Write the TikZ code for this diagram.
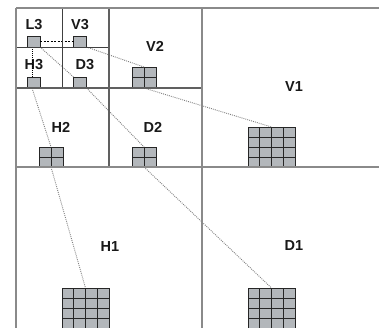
\documentclass[tikz,border=0pt]{standalone}
\usepackage{fontspec}
\setmainfont{Liberation Sans}
\usetikzlibrary{calc}
\definecolor{boxgray}{HTML}{B3B7BB}
\definecolor{frameA}{HTML}{8A8A8A}
\definecolor{frameB}{HTML}{606060}
\definecolor{frameC}{HTML}{404040}
\tikzset{
  lbl/.style={font=\bfseries\fontsize{14.5}{16}\selectfont, text=black!90, inner sep=0pt},
  sq/.style 2 args={draw=black!85, fill=boxgray, line width=0.8pt, inner sep=0pt, outer sep=0pt,
    anchor=north west, minimum width=#1, minimum height=#2},
  gridbox/.style n args={3}{sq={#1}{#2},
    path picture={\foreach \f in {#3}{
      \draw[black!85, line width=0.8pt]
        ($(path picture bounding box.north west)!\f!(path picture bounding box.north east)$) --
        ($(path picture bounding box.south west)!\f!(path picture bounding box.south east)$);
      \draw[black!85, line width=0.8pt]
        ($(path picture bounding box.north west)!\f!(path picture bounding box.south west)$) --
        ($(path picture bounding box.north east)!\f!(path picture bounding box.south east)$);
    }}},
  link/.style={draw=gray, line width=0.9pt, dash pattern=on 0.9pt off 1.1pt},
  blink/.style={draw=black, line width=0.8pt, dash pattern=on 0.9pt off 1.2pt},
  hlink/.style={draw=black, line width=0.8pt, dash pattern=on 2pt off 1.5pt},
  lineA/.style={draw=frameA, line width=1.4pt},
  lineB/.style={draw=frameB, line width=1.1pt},
  lineC/.style={draw=frameC, line width=0.9pt},
}
\begin{document}
\begin{tikzpicture}[x=1pt,y=-1pt]
\useasboundingbox[fill=white] (0,0) rectangle (379,328);
% squares and grids
\node[sq={13pt}{11pt}] (L3) at (27,36) {};
\node[sq={13pt}{11pt}] (V3) at (73.5,36) {};
\node[sq={13pt}{11pt}] (H3) at (27,77) {};
\node[sq={13pt}{11pt}] (D3) at (73.5,77) {};
\node[gridbox={24pt}{21pt}{0.5}] (V2) at (132,67) {};
\node[gridbox={24pt}{20pt}{0.5}] (H2) at (39,147) {};
\node[gridbox={24pt}{20pt}{0.5}] (D2) at (132,147) {};
\node[gridbox={47pt}{40pt}{0.25,0.5,0.75}] (V1) at (248,127) {};
\node[gridbox={47pt}{41pt}{0.25,0.5,0.75}] (H1) at (62,288) {};
\node[gridbox={47pt}{41pt}{0.25,0.5,0.75}] (D1) at (248,288) {};
% labels
\node[lbl] (tL3) at (34,25) {L3};
\node[lbl] (tV3) at (80,25) {V3};
\node[lbl] (tH3) at (34,65) {H3};
\node[lbl] (tD3) at (85,65) {D3};
\node[lbl] (tV2) at (155,46) {V2};
\node[lbl] (tH2) at (61,127) {H2};
\node[lbl] (tD2) at (153,127) {D2};
\node[lbl] (tV1) at (294,87) {V1};
\node[lbl] (tH1) at (110,247) {H1};
\node[lbl] (tD1) at (294,246) {D1};
% connectors
\draw[hlink] (L3.east) -- (V3.west);
\draw[blink] ([xshift=-1.5pt]L3.south) -- ([xshift=-1.5pt]H3.north);
\draw[link] (L3.south east) -- (D3.north west);
\draw[link] (D3.south east) -- (D2.north);
\draw[link] (D2.south) -- (D1.north);
\draw[link] (V3.south east) -- (V2.north);
\draw[link] (V2.south) -- (V1.north);
\draw[link] ([xshift=-1.5pt]H3.south) -- (H2.north);
\draw[link] (H2.south) -- (H1.north);
% frame
\draw[lineC] (62,8) -- (62,88);
\draw[lineC] (16,47) -- (109,47);
\draw[lineB] (109,8) -- (109,167);
\draw[lineB] (16,88) -- (202,88);
\draw[lineA] (16,8) -- (379,8);
\draw[lineA] (16,8) -- (16,328);
\draw[lineA] (202,8) -- (202,328);
\draw[lineA] (16,167) -- (379,167);
\end{tikzpicture}
\end{document}
